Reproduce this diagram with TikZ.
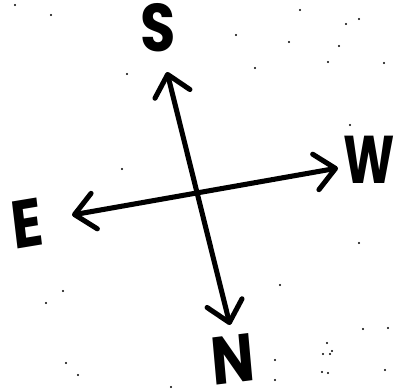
\documentclass[tikz,border=0pt]{standalone}
\usepackage{fontspec}
\setmainfont{Poppins}
\usetikzlibrary{arrows.meta}

\begin{document}
\begin{tikzpicture}[
  x=0.025cm, y=-0.025cm,
  >={Straight Barb[length=5mm, width=9mm, round]},
  arr/.style={<->, line width=3.6pt, line cap=round},
  letter/.style={font=\fontsize{48}{48}\selectfont\bfseries, inner sep=0pt,
                 text depth=0pt, xscale=0.85},
  speck/.style={fill=black},
]
\useasboundingbox (0,0) rectangle (399,391);

% ===== Arrow tips =====
\coordinate (s) at (167,72);
\coordinate (n) at (230,325);
\coordinate (e) at (72,215);
\coordinate (w) at (338,168);

\draw[arr] (s) -- (n);
\draw[arr] (e) -- (w);

% ===== Letters =====
\node[letter] (ls) at (158,27) {S};
\node[letter, rotate=6] (ln) at (233,359) {N};
\node[letter, rotate=8] (le) at (27,223) {E};
\node[letter, xscale=0.85] (lw) at (369,160) {W};

% ===== Specks =====
\foreach \x/\y in {300/10, 346/24, 359/19, 236/35, 289/42, 339/46, 328/62,
  384/63, 255/68, 350/125, 359/243, 280/285, 363/329, 388/328, 327/343,
  323/354, 330/354, 332/351, 275/360, 322/372, 328/373, 275/380, 385/370,
  63/291, 46/303, 66/363, 78/375, 171/387, 15/5, 51/15, 127/74, 122/169}
  \fill[speck] (\x,\y) circle (0.03cm);
\end{tikzpicture}
\end{document}
